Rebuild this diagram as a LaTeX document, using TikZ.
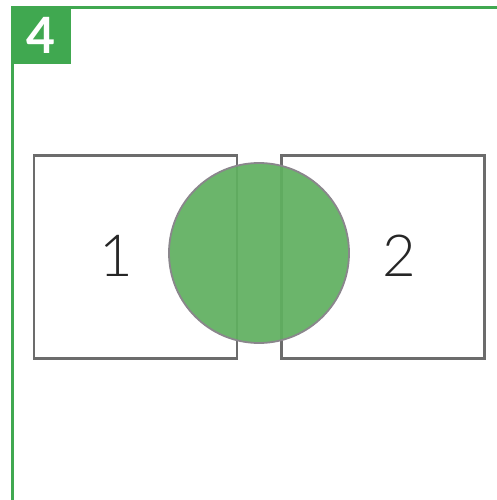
\documentclass[tikz,border=0pt]{standalone}
\usepackage{fontspec}
\setmainfont{Lato}
\newfontfamily\lightfont{Lato Light}
\definecolor{framegreen}{RGB}{64,168,80}
\definecolor{circgreen}{RGB}{96,176,96}
\definecolor{sqgray}{RGB}{108,108,108}
\definecolor{circgray}{RGB}{138,134,140}
\tikzset{
  sq/.style={draw=sqgray, line width=2.4pt, minimum size=203pt, inner sep=0pt},
  num/.style={font=\lightfont\fontsize{58}{58}\selectfont, text=black!85, inner sep=0pt},
}
\begin{document}
\begin{tikzpicture}[x=1pt,y=-1pt]
\useasboundingbox (0,0) rectangle (497,500);
\fill[white] (0,0) rectangle (497,500);
\draw[framegreen, line width=2.7pt] (12.7,500) -- (12.7,7.2) -- (497,7.2);
\node[fill=framegreen, minimum width=59pt, minimum height=58pt, inner sep=0pt, anchor=north west] (tag) at (11.4,6) {};
\node[font=\bfseries\fontsize{50}{50}\selectfont, text=white] (four) at (tag.center) {4};
\node[sq] (s1) at (135.5,257) {};
\node[sq] (s2) at (383,257) {};
\node[num] (n1) at (116,256) {1};
\node[num] (n2) at (399,256) {2};
\node[circle, draw=circgray, line width=1.8pt, fill=circgreen, fill opacity=0.93, minimum size=180pt, inner sep=0pt] (c) at (259,253) {};
\end{tikzpicture}
\end{document}
